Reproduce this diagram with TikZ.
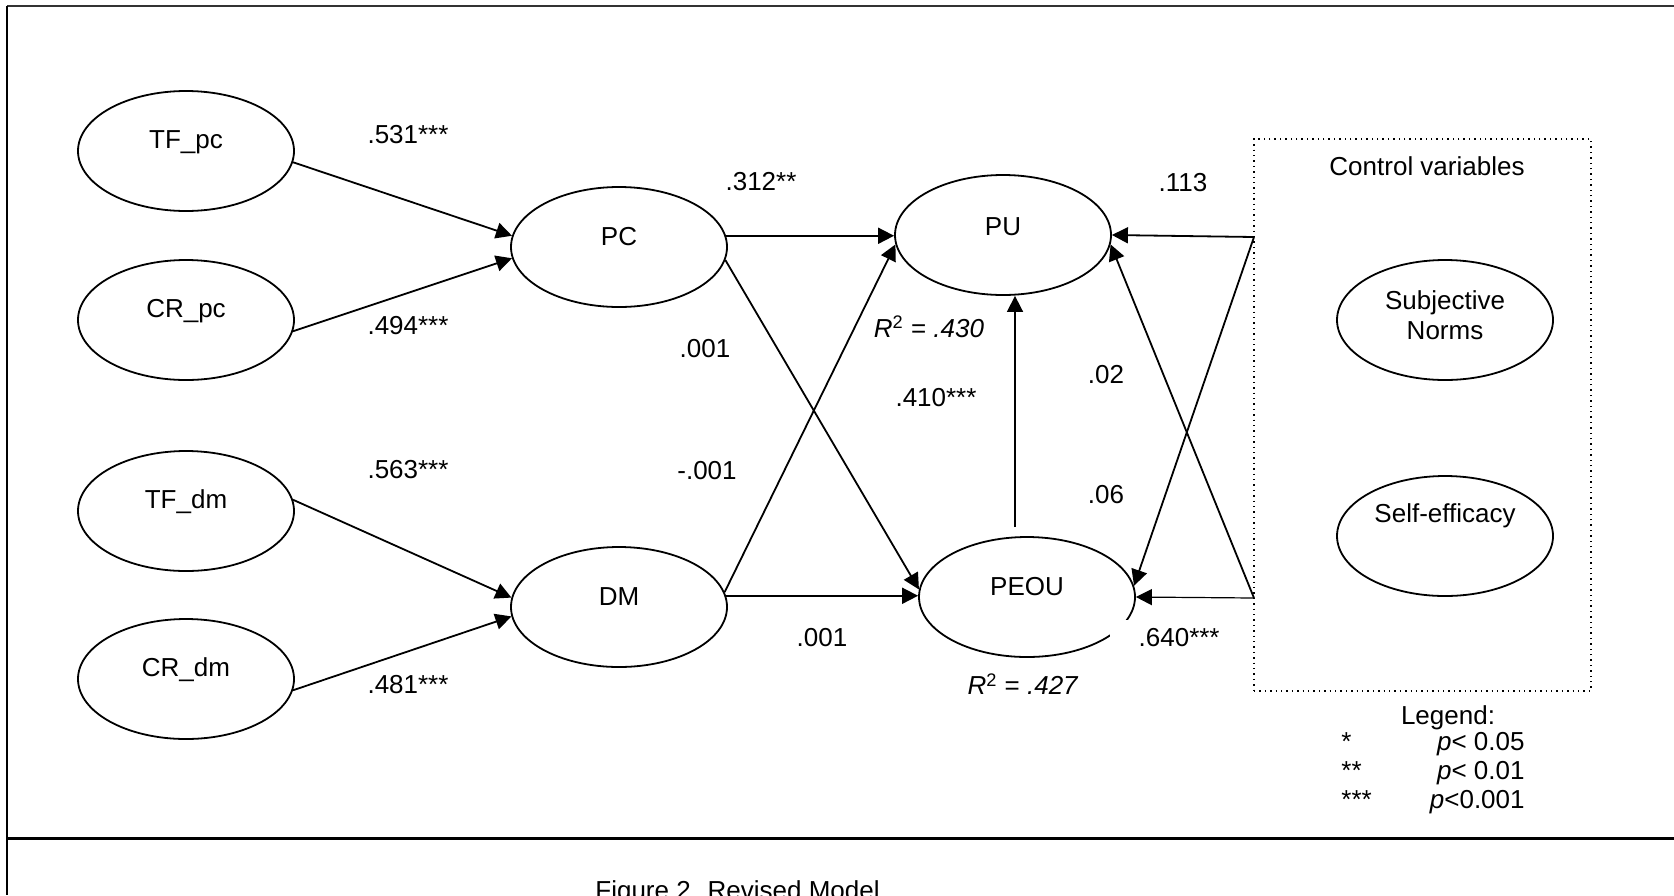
\documentclass[tikz,border=0pt]{standalone}
\usepackage{fontspec}
\setmainfont{Liberation Sans}
\usetikzlibrary{shapes.geometric,arrows.meta,calc}
\begin{document}
\begin{tikzpicture}[x=0.5pt,y=-0.5pt,
  font=\fontsize{13}{15}\selectfont,
  lat/.style={ellipse,draw,line width=0.9pt,minimum width=108pt,minimum height=60pt,inner sep=0pt},
  conn/.style={-{Triangle[length=8pt,width=8pt]},line width=0.9pt},
  coef/.style={inner sep=0pt},
  ctrlbox/.style={draw,dotted,line width=0.7pt,minimum width=168.5pt,minimum height=276pt,inner sep=0pt},
]
\clip (0,0) rectangle (1674,895);
% frame
\draw[line width=1pt,black!80] (7,6) -- (1674,6);
\draw[line width=1pt] (7,6) -- (7,895);
\draw[line width=1.5pt] (7,838) -- (1674,838);

% latent variables
\node[lat,label={[yshift=4.5pt]center:TF\textunderscore pc}] (TFpc) at (186,151) {};
\node[lat,label={[yshift=4.5pt]center:CR\textunderscore pc}] (CRpc) at (186,320) {};
\node[lat,label={[yshift=4.5pt]center:TF\textunderscore dm}] (TFdm) at (186,511) {};
\node[lat,label={[yshift=4.5pt]center:CR\textunderscore dm}] (CRdm) at (186,679) {};
\node[lat,label={[yshift=5pt]center:PC}] (PC) at (619,247) {};
\node[lat,label={[yshift=5pt]center:DM}] (DM) at (619,607) {};
\node[lat,label={[yshift=4pt]center:PU}] (PU) at (1003,235) {};
\node[lat,label={[yshift=5pt]center:PEOU}] (PEOU) at (1027,597) {};

% control variables box
\node[ctrlbox] (ctrl) at (1422.5,415) {};
\node[coef] (ctrlt) at (1427,166) {Control variables};
\node[lat,label={[yshift=2.5pt,align=center]center:Subjective\\Norms}] (SN) at (1445,320) {};
\node[lat,label={[yshift=10pt]center:Self-efficacy}] (SE) at (1445,536) {};
\coordinate (cA) at (1254,237);
\coordinate (cB) at (1254,598);
\coordinate (pTop) at (1015,527);

% connectors
\draw[conn] (TFpc.-6) -- (PC.174);
\draw[conn] (CRpc.-6) -- (PC.186);
\draw[conn] (TFdm.6) -- (DM.175);
\draw[conn] (CRdm.-6) -- (DM.185);
\draw[conn] (PC.6) -- (PC.6 -| PU.west);
\draw[conn] (PC.-7) -- (PEOU.176);
\draw[conn] (DM.8) -- (PU.185);
\draw[conn] (DM.6) -- (DM.6 -| PEOU.west);
\draw[conn,line width=0.8pt] (pTop) -- (pTop |- PU.south);
\draw[conn] (cA) -- (PU.east);
\draw[conn] (cA) -- (PEOU.6);
\draw[conn,line width=0.6pt] (cB) -- (PEOU.east);
\draw[conn] (cB) -- (PU.-5);

% coefficients
\node[coef] (c1) at (408,135) {.531***};
\node[coef] (c2) at (408,326) {.494***};
\node[coef] (c3) at (408,470) {.563***};
\node[coef] (c4) at (408,685) {.481***};
\node[coef] (c5) at (761,182) {.312**};
\node[coef] (c6) at (705,349) {.001};
\node[coef] (c7) at (707,471) {-.001};
\node[coef] (c8) at (822,638) {.001};
\node[coef] (r1) at (929,327) {\textit{R}\textsuperscript{2} = \textit{.430}};
\node[coef] (c9) at (936,398) {.410***};
\node[coef] (c10) at (1106,375) {.02};
\node[coef] (c11) at (1106,495) {.06};
\node[coef] (c12) at (1183,183) {.113};
\node[coef,fill=white,anchor=east,text width=54pt,align=right,minimum height=18pt,inner xsep=1pt] (c13) at (1222,638) {.640***};
\node[coef] (r2) at (1023,684) {\textit{R}\textsuperscript{2} = \textit{.427}};

% legend
\node[coef,anchor=base] (lg) at (1448,724) {Legend:};
\node[coef,anchor=base west] (s1) at (1341,750) {*};
\node[coef,anchor=base east] (p1) at (1525,750) {\textit{p}< 0.05};
\node[coef,anchor=base west] (s2) at (1341,779) {**};
\node[coef,anchor=base east] (p2) at (1525,779) {\textit{p}< 0.01};
\node[coef,anchor=base west] (s3) at (1341,808) {***};
\node[coef,anchor=base east] (p3) at (1525,808) {\textit{p}<0.001};

% caption
\node[coef,anchor=base west] (cap) at (595,899) {Figure 2. Revised Model};
\end{tikzpicture}
\end{document}
